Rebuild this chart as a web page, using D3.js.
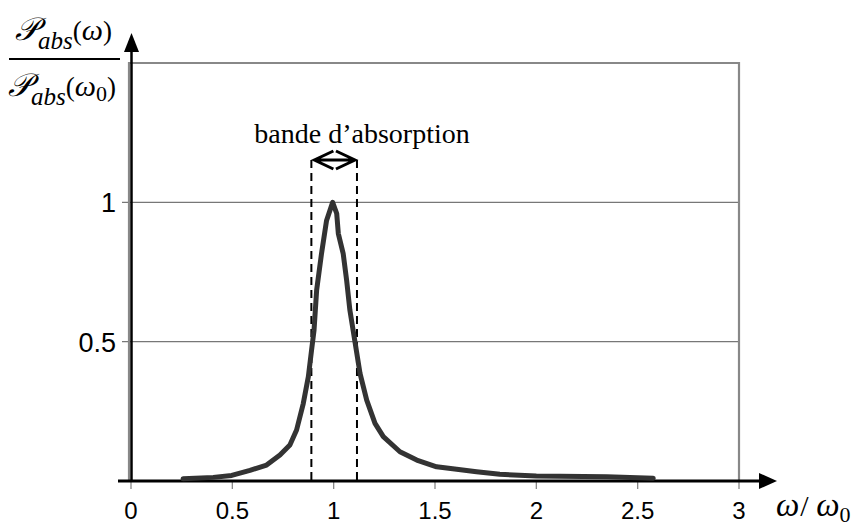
<!DOCTYPE html>
<html>
<head>
<meta charset="utf-8">
<script src="https://cdn.jsdelivr.net/npm/d3@7"></script>
<style>
  body { margin: 0; background: #fff; }
  svg { display: block; }
  .tick-label { font-family: "Liberation Sans", Arial, sans-serif; fill: #000; }
  .serif { font-family: "Liberation Serif", "Times New Roman", serif; fill: #000; }
</style>
</head>
<body>
<div class="viz"></div>
<script>
// axis ticks
const xTicks = [0, 0.5, 1, 1.5, 2, 2.5, 3];
const yTicks = [0.5, 1];

// absorbed power curve
const omega = [0.257, 0.406, 0.497, 0.587, 0.669, 0.735, 0.784, 0.817, 0.850, 0.875, 0.891, 0.903,
  0.916, 0.94, 0.965, 0.995, 1.015, 1.023, 1.047, 1.064, 1.08, 1.105, 1.13, 1.163, 1.204, 1.245,
  1.327, 1.41, 1.508, 1.607, 1.705, 1.82, 2.0, 2.347, 2.577];
const power = [0.008, 0.013, 0.02, 0.038, 0.057, 0.093, 0.129, 0.183, 0.278, 0.374, 0.47, 0.54,
  0.685, 0.816, 0.935, 1.0, 0.96, 0.888, 0.816, 0.72, 0.613, 0.5, 0.386, 0.29, 0.207, 0.159,
  0.105, 0.075, 0.051, 0.042, 0.033, 0.024, 0.018, 0.015, 0.01];

// band edges
const band = [0.89, 1.115];

const width = 859, height = 527;
const margin = {top: 63, right: 120, bottom: 46, left: 131};

const svg = d3.select('.viz').append('svg')
  .attr('width', width)
  .attr('height', height);

const x = d3.scaleLinear([0, 3], [margin.left, width - margin.right]);
const y = d3.scaleLinear([0, 1.5], [height - margin.bottom, margin.top]);

const gray = '#888';

// grid lines + frame
svg.append('g')
  .selectAll('line')
  .data(yTicks)
  .join('line')
    .attr('x1', x(0) - 9).attr('x2', x(3))
    .attr('y1', d => y(d)).attr('y2', d => y(d))
    .attr('stroke', '#777').attr('stroke-width', 1.3);

svg.append('path')
  .attr('d', `M${x(0) - 2},${y(0)} V${y(1.5)} H${x(3)} V${y(0)}`)
  .attr('fill', 'none')
  .attr('stroke', gray)
  .attr('stroke-width', 2.2);

// x ticks
svg.append('g')
  .selectAll('line')
  .data(xTicks)
  .join('line')
    .attr('x1', d => x(d)).attr('x2', d => x(d))
    .attr('y1', y(0)).attr('y2', y(0) + 8)
    .attr('stroke', gray).attr('stroke-width', 1.3);

svg.append('g')
  .selectAll('text')
  .data(xTicks)
  .join('text')
    .attr('class', 'tick-label')
    .attr('x', d => x(d))
    .attr('y', 519)
    .attr('text-anchor', 'middle')
    .attr('font-size', 24)
    .text(d => String(d));

svg.append('g')
  .selectAll('text')
  .data(yTicks)
  .join('text')
    .attr('class', 'tick-label')
    .attr('x', 116)
    .attr('y', d => y(d) + 10)
    .attr('text-anchor', 'end')
    .attr('font-size', 27)
    .text(d => String(d));

// axes with arrows
svg.append('line')
  .attr('x1', 118).attr('x2', 762)
  .attr('y1', y(0)).attr('y2', y(0))
  .attr('stroke', '#000').attr('stroke-width', 3);
svg.append('path')
  .attr('d', `M777,${y(0)} L759,${y(0) - 8} L759,${y(0) + 8} Z`)
  .attr('fill', '#000');

const ax = x(0) + 0.5;
svg.append('line')
  .attr('x1', ax).attr('x2', ax)
  .attr('y1', y(0)).attr('y2', 50)
  .attr('stroke', '#000').attr('stroke-width', 2.5);
svg.append('path')
  .attr('d', `M${ax},33 L${ax - 7.5},52 L${ax + 7.5},52 Z`)
  .attr('fill', '#000');

// band markers
const bandTop = 160;
svg.append('g')
  .selectAll('line')
  .data(band)
  .join('line')
    .attr('x1', d => x(d)).attr('x2', d => x(d))
    .attr('y1', bandTop).attr('y2', y(0))
    .attr('stroke', '#000')
    .attr('stroke-width', 2)
    .attr('stroke-dasharray', '8,5');

const bl = x(band[0]) + 3, br = x(band[1]) - 2;
svg.append('path')
  .attr('d', `M${bl},${bandTop} H${br} M${bl + 19},${bandTop - 9} L${bl},${bandTop} L${bl + 19},${bandTop + 9}` +
    ` M${br - 19},${bandTop - 9} L${br},${bandTop} L${br - 19},${bandTop + 9}`)
  .attr('fill', 'none')
  .attr('stroke', '#000')
  .attr('stroke-width', 3);

svg.append('text')
  .attr('class', 'serif')
  .attr('x', 362)
  .attr('y', 143)
  .attr('text-anchor', 'middle')
  .attr('font-size', 28)
  .text('bande d\u2019absorption');

// curve
const line = d3.line()
  .x(d => x(d[0]))
  .y(d => y(d[1]));

svg.append('path')
  .datum(d3.zip(omega, power))
  .attr('d', line)
  .attr('fill', 'none')
  .attr('stroke', '#333')
  .attr('stroke-width', 5)
  .attr('stroke-linejoin', 'round')
  .attr('stroke-linecap', 'round');

// y label (fraction)
const frac = svg.append('g').attr('class', 'serif');

const pabs = (g, xPos, yBase, arg, sub) => {
  const t = g.append('text').attr('x', xPos).attr('y', yBase);
  t.append('tspan').attr('font-style', 'italic').attr('font-size', 32).text('\u{1D4AB}');
  t.append('tspan').attr('font-style', 'italic').attr('font-size', 25).attr('dy', 9).text('abs');
  t.append('tspan').attr('font-size', 27).attr('dy', -9).text('(');
  t.append('tspan').attr('font-style', 'italic').attr('font-size', 30).text('\u03C9');
  if (sub) t.append('tspan').attr('font-size', 22).attr('dy', 5).text(sub);
  t.append('tspan').attr('font-size', 27).attr('dy', sub ? -5 : 0).text(')');
};
pabs(frac, 15, 40, '\u03C9', null);
pabs(frac, 8, 96, '\u03C9', '0');

frac.append('line')
  .attr('x1', 9).attr('x2', 120)
  .attr('y1', 59).attr('y2', 59)
  .attr('stroke', '#000').attr('stroke-width', 2);

// x label
const xl = svg.append('text').attr('class', 'serif').attr('x', 776).attr('y', 516);
xl.append('tspan').attr('font-style', 'italic').attr('font-size', 33).text('\u03C9');
xl.append('tspan').attr('font-size', 30).attr('dx', 1).text('/ ');
xl.append('tspan').attr('font-style', 'italic').attr('font-size', 33).text('\u03C9');
xl.append('tspan').attr('font-size', 22).attr('dy', 6).text('0');
</script>
</body>
</html>
